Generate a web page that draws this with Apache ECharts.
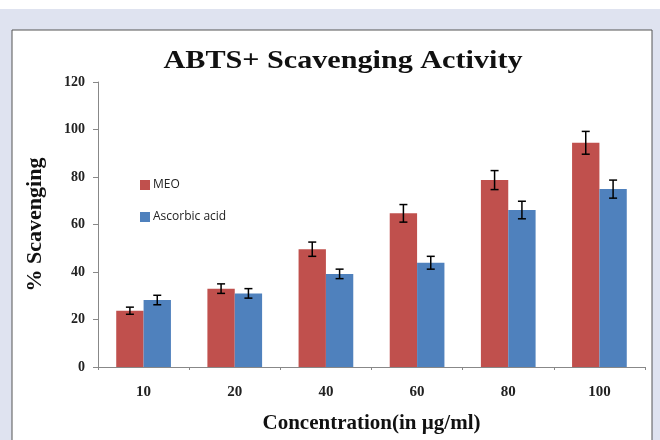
<!DOCTYPE html>
<html><head><meta charset="utf-8">
<script src="https://cdn.jsdelivr.net/npm/echarts@6/dist/echarts.min.js"></script>
<style>html,body{margin:0;padding:0;background:#dfe3f0;}#c{width:660px;height:440px;}</style>
</head><body><div id="c"></div>
<script>
const categories = ['10', '20', '40', '60', '80', '100'];
const meoValues = [23.7, 33.0, 49.6, 64.7, 78.7, 94.4];
const meoErrors = [1.5, 2.0, 3.0, 3.7, 4.0, 4.8];
const ascValues = [28.2, 31.0, 39.2, 43.9, 66.1, 74.9];
const ascErrors = [2.0, 2.0, 2.0, 2.7, 3.7, 3.8];
const seriesNames = ['MEO', 'Ascorbic acid'];
const yTicks = [0, 20, 40, 60, 80, 100, 120];
const titleText = 'ABTS+ Scavenging Activity';

const colors = ['#c0504d', '#4f81bd'];
const serif = '"Liberation Serif", "DejaVu Serif", serif';
const barFrac = 0.3;

function errSeries(values, errors, side) {
  return {
    type: 'custom',
    silent: true,
    z: 10,
    data: values.map((v, i) => [i, v, errors[i]]),
    renderItem: function (params, api) {
      const idx = api.value(0);
      const v = api.value(1), e = api.value(2);
      const bw = api.size([1, 0])[0];
      const off = side * bw * barFrac / 2;
      const top = api.coord([idx, v + e]);
      const bot = api.coord([idx, v - e]);
      const x = top[0] + off;
      const cap = 4;
      const style = { stroke: '#000', lineWidth: 1.5 };
      return {
        type: 'group',
        children: [
          { type: 'line', shape: { x1: x, y1: top[1], x2: x, y2: bot[1] }, style },
          { type: 'line', shape: { x1: x - cap, y1: top[1], x2: x + cap, y2: top[1] }, style },
          { type: 'line', shape: { x1: x - cap, y1: bot[1], x2: x + cap, y2: bot[1] }, style }
        ]
      };
    }
  };
}

const chart = echarts.init(document.getElementById('c'));
chart.setOption({
  backgroundColor: '#dfe3f0',
  animation: false,
  graphic: [
    { type: 'rect', shape: { x: 0, y: 0, width: 660, height: 9 }, style: { fill: '#ffffff' }, z: -10 },
    { type: 'rect', shape: { x: 12, y: 30, width: 640, height: 430 }, style: { fill: '#ffffff', stroke: '#555555', lineWidth: 1 }, z: -10 },
    { type: 'text', x: 343, y: 61, scaleX: 1.16,
      style: { text: titleText, font: 'bold 26px ' + serif, fill: '#111', align: 'center', verticalAlign: 'middle' } }
  ],
  legend: {
    orient: 'vertical',
    left: 135, top: 174,
    itemWidth: 10, itemHeight: 10, itemGap: 20,
    icon: 'rect',
    data: seriesNames,
    textStyle: { fontFamily: '"Open Sans", "Noto Sans", sans-serif', fontSize: 12, color: '#222', padding: [0, 0, 0, -2] }
  },
  grid: { left: 98, right: 15, top: 82, bottom: 73, outerBoundsMode: 'none', containLabel: false },
  xAxis: {
    type: 'category',
    data: categories,
    name: 'Concentration(in µg/ml)',
    nameLocation: 'middle', nameGap: 46,
    nameTextStyle: { fontFamily: serif, fontWeight: 'bold', fontSize: 21, color: '#111' },
    axisLine: { lineStyle: { color: '#888', width: 1 } },
    axisTick: { show: true, length: 3, lineStyle: { color: '#888' } },
    axisLabel: { fontFamily: serif, fontWeight: 'bold', fontSize: 15, color: '#222', margin: 18 }
  },
  yAxis: {
    type: 'value',
    min: 0, max: 120, interval: 20,
    name: '% Scavenging',
    nameLocation: 'middle', nameGap: 52, nameRotate: 90,
    nameTextStyle: { fontFamily: serif, fontWeight: 'bold', fontSize: 22, color: '#111' },
    axisLine: { show: true, lineStyle: { color: '#888', width: 1 } },
    axisTick: { show: true, inside: false, length: 5, lineStyle: { color: '#888' } },
    splitLine: { show: false },
    axisLabel: { fontFamily: serif, fontWeight: 'bold', fontSize: 14, color: '#222', margin: 13,
      formatter: v => yTicks.includes(v) ? String(v) : '' }
  },
  series: [
    { name: seriesNames[0], type: 'bar', data: meoValues, barGap: '0%', barCategoryGap: '40%', itemStyle: { color: colors[0] } },
    { name: seriesNames[1], type: 'bar', data: ascValues, barGap: '0%', barCategoryGap: '40%', itemStyle: { color: colors[1] } },
    errSeries(meoValues, meoErrors, -1),
    errSeries(ascValues, ascErrors, 1)
  ]
});
</script></body></html>
